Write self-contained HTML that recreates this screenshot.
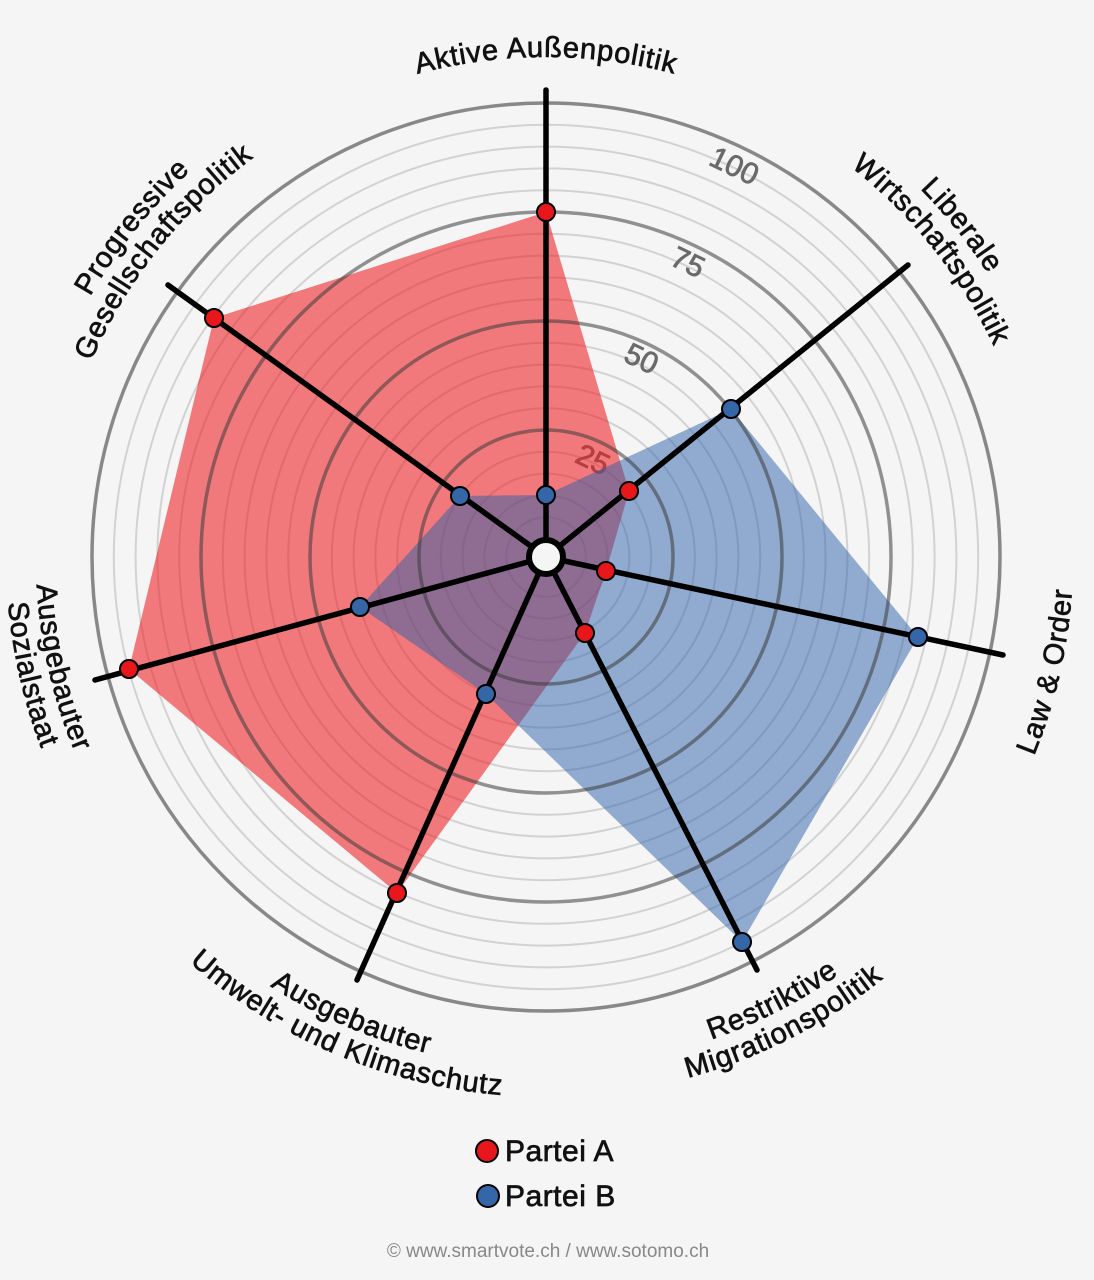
<!DOCTYPE html>
<html><head><meta charset="utf-8"><style>
html,body{margin:0;padding:0;background:#f5f5f5;}
svg{display:block;font-family:"Liberation Sans",sans-serif;}
</style></head><body>
<svg width="1094" height="1280" viewBox="0 0 1094 1280" xmlns="http://www.w3.org/2000/svg">
<defs>
<path id="t500" d="M46,557 A500,500 0 0 1 1046,557"/>
<path id="t495" d="M51,557 A495,495 0 0 1 1041,557"/>
<path id="t525" d="M21,557 A525,525 0 0 1 1071,557"/>
<path id="b510" d="M36,557 A510,510 0 0 0 1056,557"/>
<path id="b540" d="M6,557 A540,540 0 0 0 1086,557"/>
<path id="b527" d="M19,557 A527,527 0 0 0 1073,557"/>
</defs>
<rect width="1094" height="1280" fill="#f5f5f5"/>
<g fill="none" stroke="#d2d2d2" stroke-width="2">
<circle cx="546" cy="557" r="39.8"/><circle cx="546" cy="557" r="61.6"/><circle cx="546" cy="557" r="83.4"/><circle cx="546" cy="557" r="105.2"/>
<circle cx="546" cy="557" r="148.8"/><circle cx="546" cy="557" r="170.6"/><circle cx="546" cy="557" r="192.4"/><circle cx="546" cy="557" r="214.2"/>
<circle cx="546" cy="557" r="257.8"/><circle cx="546" cy="557" r="279.6"/><circle cx="546" cy="557" r="301.4"/><circle cx="546" cy="557" r="323.2"/>
<circle cx="546" cy="557" r="366.8"/><circle cx="546" cy="557" r="388.6"/><circle cx="546" cy="557" r="410.4"/><circle cx="546" cy="557" r="432.2"/>
</g>
<g fill="#6a6a6a" stroke="#6a6a6a" stroke-width="0.8" font-size="30" text-anchor="middle">
<text x="546" y="459" transform="rotate(25.71 546 557)">25</text>
<text x="546" y="347" transform="rotate(25.71 546 557)">50</text>
<text x="546" y="240" transform="rotate(25.71 546 557)">75</text>
<text x="546" y="133" transform="rotate(25.71 546 557)">100</text>
</g>
<polygon points="546,212 629,491 606,571 585,633 397,893 129,669 214,318" fill="rgba(238,30,35,0.58)"/>
<polygon points="546,495 731,409 918,637 742,942 486,694 360,607 460,496" fill="rgba(45,95,170,0.5)"/>
<g fill="none" stroke="rgba(60,60,60,0.55)" stroke-width="3.5">
<circle cx="546" cy="557" r="127"/><circle cx="546" cy="557" r="236"/><circle cx="546" cy="557" r="345"/>
</g>
<circle cx="546" cy="557" r="454" fill="none" stroke="#888" stroke-width="3.5"/>
<g stroke="#000" stroke-width="5.5" stroke-linecap="round">
<line x1="546" y1="557" x2="546" y2="90"/>
<line x1="546" y1="557" x2="908" y2="265"/>
<line x1="546" y1="557" x2="1003" y2="655"/>
<line x1="546" y1="557" x2="757" y2="970"/>
<line x1="546" y1="557" x2="357" y2="980"/>
<line x1="546" y1="557" x2="95" y2="680"/>
<line x1="546" y1="557" x2="168" y2="285"/>
</g>
<circle cx="546" cy="557" r="17" fill="#f5f5f5" stroke="#000" stroke-width="6"/>
<g stroke="#000" stroke-width="2">
<g fill="#e8171b">
<circle cx="546" cy="212" r="9"/><circle cx="629" cy="491" r="9"/><circle cx="606" cy="571" r="9"/><circle cx="585" cy="633" r="9"/><circle cx="397" cy="893" r="9"/><circle cx="129" cy="669" r="9"/><circle cx="214" cy="318" r="9"/>
</g>
<g fill="#3466a8">
<circle cx="546" cy="495" r="9"/><circle cx="731" cy="409" r="9"/><circle cx="918" cy="637" r="9"/><circle cx="742" cy="942" r="9"/><circle cx="486" cy="694" r="9"/><circle cx="360" cy="607" r="9"/><circle cx="460" cy="496" r="9"/>
</g>
</g>
<g fill="#111" stroke="#111" stroke-width="0.7" font-size="29" letter-spacing="0.8" text-anchor="middle">
<text><textPath href="#t500" startOffset="50%">Aktive Außenpolitik</textPath></text>
<g transform="rotate(51.43 546 557)">
<text><textPath href="#t525" startOffset="50%">Liberale</textPath></text>
<text><textPath href="#t495" startOffset="50%">Wirtschaftspolitik</textPath></text>
</g>
<g transform="rotate(-51.43 546 557)">
<text><textPath href="#t525" startOffset="50%">Progressive</textPath></text>
<text><textPath href="#t495" startOffset="50%">Gesellschaftspolitik</textPath></text>
</g>
<g transform="rotate(-77.14 546 557)">
<text><textPath href="#b527" startOffset="50%">Law &amp; Order</textPath></text>
</g>
<g transform="rotate(-27 546 557)">
<text><textPath href="#b510" startOffset="50%">Restriktive</textPath></text>
<text><textPath href="#b540" startOffset="50%">Migrationspolitik</textPath></text>
</g>
<g transform="rotate(23 546 557)">
<text><textPath href="#b510" startOffset="50%">Ausgebauter</textPath></text>
<text><textPath href="#b540" startOffset="50%">Umwelt- und Klimaschutz</textPath></text>
</g>
<g transform="rotate(77.14 546 557)">
<text><textPath href="#b510" startOffset="50%">Ausgebauter</textPath></text>
<text><textPath href="#b540" startOffset="50%">Sozialstaat</textPath></text>
</g>
</g>
<circle cx="487" cy="1151" r="11" fill="#e8171b" stroke="#000" stroke-width="2"/>
<circle cx="488" cy="1196" r="11" fill="#3466a8" stroke="#000" stroke-width="2"/>
<g font-size="30" fill="#111" stroke="#111" stroke-width="0.7" letter-spacing="0.5">
<text x="505" y="1161">Partei A</text>
<text x="505" y="1206">Partei B</text>
</g>
<text x="548" y="1257" font-size="19" fill="#888" text-anchor="middle">© www.smartvote.ch / www.sotomo.ch</text>
</svg>
</body></html>
